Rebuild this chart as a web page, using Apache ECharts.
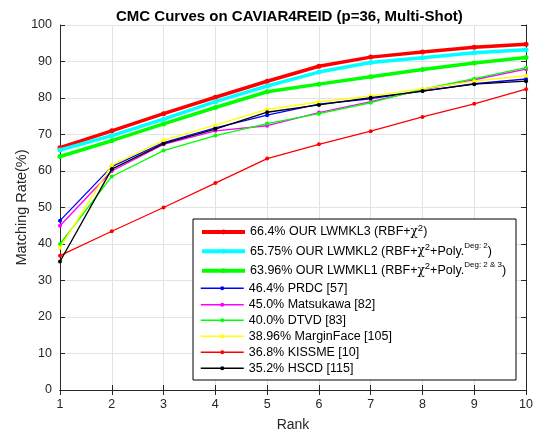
<!DOCTYPE html>
<html>
<head>
<meta charset="utf-8">
<script src="https://cdn.jsdelivr.net/npm/echarts@6/dist/echarts.min.js"></script>
<style>html,body{margin:0;padding:0;background:#fff;}#c{width:536px;height:437px;}</style>
</head>
<body>
<div id="c"></div>
<script>
const ranks = [1, 2, 3, 4, 5, 6, 7, 8, 9, 10];
const seriesNames = ['LWMKL3', 'LWMKL2', 'LWMKL1', 'PRDC', 'Matsukawa', 'DTVD', 'MarginFace', 'KISSME', 'HSCD'];
const legendLabels = [
  '66.4% OUR LWMKL3 (RBF+{c|χ}{s|2})',
  '65.75% OUR LWMKL2 (RBF+{c|χ}{s|2}+Poly.{d|Deg: 2})',
  '63.96% OUR LWMKL1 (RBF+{c|χ}{s|2}+Poly.{d|Deg: 2 & 3})',
  '46.4% PRDC [57]',
  '45.0% Matsukawa [82]',
  '40.0% DTVD [83]',
  '38.96% MarginFace [105]',
  '36.8% KISSME [10]',
  '35.2% HSCD [115]'
];
const lwmkl3 = [66.4, 71.0, 75.7, 80.2, 84.6, 88.7, 91.2, 92.6, 93.9, 94.7];
const lwmkl2 = [65.75, 69.7, 74.2, 79.0, 83.3, 87.1, 89.7, 91.0, 92.4, 93.2];
const lwmkl1 = [63.96, 68.3, 72.9, 77.4, 81.7, 83.8, 85.8, 87.8, 89.6, 91.1];
const prdc = [46.4, 61.2, 67.8, 71.8, 75.3, 78.3, 79.8, 81.9, 83.9, 85.2];
const matsukawa = [45.0, 60.0, 67.3, 71.0, 72.4, 76.0, 79.0, 82.2, 85.0, 87.9];
const dtvd = [40.0, 58.5, 65.6, 69.7, 73.0, 75.7, 78.7, 82.4, 85.3, 88.3];
const marginface = [38.96, 61.6, 68.4, 72.6, 76.9, 78.9, 80.6, 82.5, 84.6, 86.1];
const kissme = [36.8, 43.5, 50.0, 56.7, 63.4, 67.3, 70.9, 74.8, 78.4, 82.4];
const hscd = [35.2, 60.5, 67.5, 71.5, 76.1, 78.1, 80.1, 81.9, 83.8, 84.6];
const yTicks = [0, 10, 20, 30, 40, 50, 60, 70, 80, 90, 100];

const allValues = [lwmkl3, lwmkl2, lwmkl1, prdc, matsukawa, dtvd, marginface, kissme, hscd];
const colors = ['#ff0000', '#00ffff', '#00ff00', '#0000ff', '#ff00ff', '#00ff00', '#ffff00', '#ff0000', '#000000'];
const widths = [3.5, 3.5, 3.5, 1.3, 1.3, 1.3, 1.3, 1.3, 1.3];
const FONT = 'Liberation Sans, Arial, Helvetica, sans-serif';
const TXT = '#262626';

const series = allValues.map((vals, i) => ({
  name: seriesNames[i],
  type: 'line',
  data: ranks.map((r, k) => [r, vals[k]]),
  symbol: 'circle',
  symbolSize: i < 3 ? 5 : 4,
  showSymbol: true,
  lineStyle: { color: colors[i], width: widths[i] },
  itemStyle: { color: colors[i] },
  z: 2 + i * 0.01,
  animation: false
}));

const rowCenters = [232, 251.3, 270.7, 288.3, 304.7, 320.3, 336.3, 352.3, 368.3];
const legends = seriesNames.map((n, i) => {
  const rich = i < 3;
  const lh = rich ? 22 : 14;
  return {
    show: true,
    data: [n],
    orient: 'vertical',
    left: 200,
    top: rowCenters[i] - lh / 2,
    padding: 0,
    itemWidth: 43,
    itemHeight: rich ? 6 : 5,
    itemGap: 0,
    selectedMode: false,
    z: 10,
    lineStyle: { width: widths[i] + (rich ? 0.5 : 0.2) },
    formatter: () => legendLabels[i],
    textStyle: {
      fontFamily: FONT, fontSize: 12.5, color: '#000', lineHeight: lh,
      rich: {
        c: { fontFamily: 'DejaVu Serif', fontSize: 12, color: '#000', lineHeight: lh },
        s: { fontFamily: FONT, fontSize: 9.5, color: '#000', verticalAlign: 'top', padding: [2, 0, 0, 0] },
        d: { fontFamily: FONT, fontSize: 8, color: '#000', verticalAlign: 'top', padding: [1, 0, 0, 0] }
      }
    }
  };
});

const axisLineStyle = { lineStyle: { color: TXT, width: 1 } };
const option = {
  animation: false,
  backgroundColor: '#fff',
  title: {
    text: 'CMC Curves on CAVIAR4REID (p=36, Multi-Shot)',
    left: 111, top: 4,
    textStyle: { fontFamily: FONT, fontSize: 15, fontWeight: 'bold', color: '#000' }
  },
  grid: { left: 60, right: 6, top: 25, bottom: 44, containLabel: false },
  xAxis: [{
    type: 'value', min: 1, max: 10, interval: 1, position: 'bottom',
    axisLine: axisLineStyle,
    axisTick: { show: true, inside: true, length: 5, lineStyle: { color: TXT } },
    axisLabel: { color: TXT, fontFamily: FONT, fontSize: 12.5, margin: 8 },
    splitLine: { show: true, lineStyle: { color: '#e3e3e3', width: 1 } },
    name: 'Rank', nameLocation: 'middle', nameGap: 28,
    nameTextStyle: { color: TXT, fontFamily: FONT, fontSize: 14 }
  }, {
    type: 'value', min: 1, max: 10, interval: 1, position: 'top',
    axisLine: axisLineStyle,
    axisTick: { show: true, inside: true, length: 5, lineStyle: { color: TXT } },
    axisLabel: { show: false }, splitLine: { show: false }
  }],
  yAxis: [{
    type: 'value', min: 0, max: 100, interval: 10, position: 'left',
    axisLine: { show: true, lineStyle: { color: TXT, width: 1 } },
    axisTick: { show: true, inside: true, length: 5, lineStyle: { color: TXT } },
    axisLabel: { color: TXT, fontFamily: FONT, fontSize: 12.5, margin: 8,
      formatter: v => yTicks.indexOf(v) >= 0 ? String(v) : '' },
    splitLine: { show: true, lineStyle: { color: '#e3e3e3', width: 1 } },
    name: 'Matching Rate(%)', nameLocation: 'middle', nameGap: 31, nameRotate: 90,
    nameMoveOverlap: false,
    nameTextStyle: { color: TXT, fontFamily: FONT, fontSize: 14.5 }
  }, {
    type: 'value', min: 0, max: 100, interval: 10, position: 'right',
    axisLine: { show: true, lineStyle: { color: TXT, width: 1 } },
    axisTick: { show: true, inside: true, length: 5, lineStyle: { color: TXT } },
    axisLabel: { show: false }, splitLine: { show: false }
  }],
  legend: legends,
  graphic: [{
    type: 'rect', z: 5,
    shape: { x: 193, y: 219, width: 323, height: 161 },
    style: { fill: '#fff', stroke: '#000', lineWidth: 1 }
  }],
  series: series
};
const chart = echarts.init(document.getElementById('c'), null, { renderer: 'canvas' });
chart.setOption(option);
</script>
</body>
</html>
